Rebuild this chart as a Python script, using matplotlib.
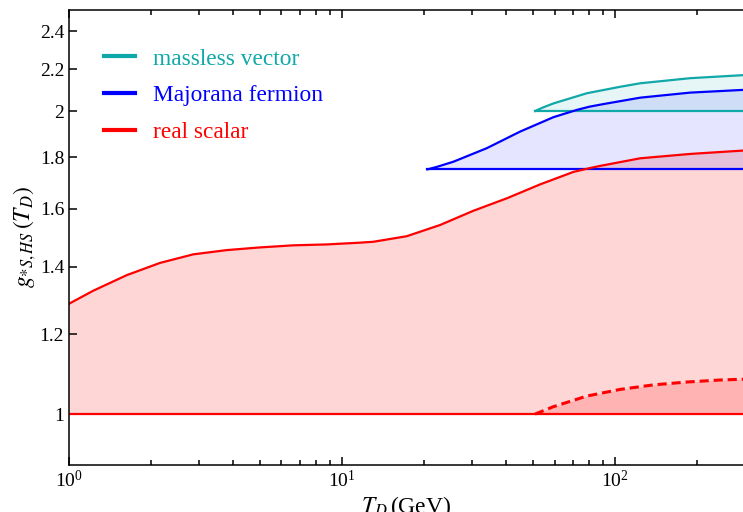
import numpy as np
import matplotlib.pyplot as plt
from matplotlib.ticker import FixedLocator, FixedFormatter, NullFormatter, LogLocator

plt.rcParams['font.family'] = 'Liberation Serif'
plt.rcParams['mathtext.fontset'] = 'stix'

T_max = 294.0

# real scalar: g_{*S,HS}(T_D)
T_scalar = [1.0, 1.227, 1.627, 2.154, 2.853, 3.78, 5.008, 6.632, 8.79, 11.64, 13.02,
            17.26, 22.86, 30.27, 40.12, 53.13, 70.37, 80.6, 88.1, 123.5, 188.3, 294.0]
g_scalar = [1.287, 1.326, 1.374, 1.413, 1.441, 1.455, 1.464, 1.471, 1.474, 1.480, 1.483,
            1.502, 1.541, 1.592, 1.638, 1.691, 1.740, 1.755, 1.764, 1.795, 1.813, 1.827]
g_scalar_base = 1.0

# real scalar, dashed branch
T_scalar_d = [50.93, 59.43, 78.8, 104.3, 138.1, 183.0, 242.4, 294.0]
g_scalar_d = [1.0, 1.017, 1.042, 1.058, 1.069, 1.076, 1.081, 1.083]

# Majorana fermion
T_fermion = [20.53, 22.23, 25.57, 33.88, 44.87, 59.43, 72.39, 80.6, 90.6, 123.5, 188.3, 294.0]
g_fermion = [1.750, 1.760, 1.781, 1.837, 1.908, 1.972, 2.005, 2.020, 2.032, 2.062, 2.086, 2.099]
g_fermion_base = 1.75

# massless vector
T_vector = [50.93, 54.6, 59.43, 78.8, 104.3, 123.5, 188.3, 294.0]
g_vector = [2.0, 2.017, 2.035, 2.083, 2.114, 2.131, 2.156, 2.171]
g_vector_base = 2.0

yticks = [1, 1.2, 1.4, 1.6, 1.8, 2, 2.2, 2.4]
yticklabels = ['1', '1.2', '1.4', '1.6', '1.8', '2', '2.2', '2.4']

red = '#ff0000'
blue = '#0000ff'
teal = '#10a8a8'

fig = plt.figure(figsize=(7.43, 5.12), dpi=100)
ax = fig.add_axes([0.0929, 0.0918, 0.9071, 0.8887])

# shaded bands between base level and curve
ax.fill_between(T_scalar, g_scalar_base, g_scalar, color=red, alpha=0.16, lw=0)
ax.fill_between(T_scalar_d, g_scalar_base, g_scalar_d, color=red, alpha=0.16, lw=0)
ax.fill_between(T_fermion, g_fermion_base, g_fermion, color=blue, alpha=0.10, lw=0)
ax.fill_between(T_vector, g_vector_base, g_vector, color=teal, alpha=0.10, lw=0)

lw = 1.6
ax.plot(T_vector, g_vector, color=teal, lw=lw, label='massless vector')
ax.plot([T_vector[0], T_max], [g_vector_base] * 2, color=teal, lw=lw)
ax.plot(T_fermion, g_fermion, color=blue, lw=lw, label='Majorana fermion')
ax.plot([T_fermion[0], T_max], [g_fermion_base] * 2, color=blue, lw=lw)
ax.plot(T_scalar, g_scalar, color=red, lw=lw, label='real scalar')
ax.plot([T_scalar[0], T_max], [g_scalar_base] * 2, color=red, lw=lw)
ax.plot(T_scalar_d, g_scalar_d, color=red, lw=2.2, ls=(0, (3, 1.6)))

ax.set_xscale('log')
ax.set_yscale('log')
ax.set_xlim(1, T_max)
ax.set_ylim(0.89, 2.52)

ax.yaxis.set_major_locator(FixedLocator(yticks))
ax.yaxis.set_major_formatter(FixedFormatter(yticklabels))
ax.yaxis.set_minor_locator(FixedLocator([]))
ax.yaxis.set_minor_formatter(NullFormatter())
ax.xaxis.set_major_locator(LogLocator(base=10))
ax.xaxis.set_minor_locator(LogLocator(base=10, subs=np.arange(2, 10)))
ax.xaxis.set_minor_formatter(NullFormatter())

ax.tick_params(which='both', direction='in', top=True, right=False, labelsize=14, width=1.1)
ax.tick_params(which='major', length=6)
ax.tick_params(which='minor', length=3.5)
ax.spines['right'].set_visible(False)
for s in ['left', 'top', 'bottom']:
    ax.spines[s].set_linewidth(1.1)

ax.set_xlabel(r'$T_D\,$(GeV)', fontsize=17, labelpad=2)
ax.set_ylabel(r'$g_{*S,HS}\,(T_D)$', fontsize=17, labelpad=1)

leg = ax.legend(loc='upper left', bbox_to_anchor=(0.052, 0.916), frameon=False,
                borderaxespad=0, borderpad=0,
                fontsize=16.8, handlelength=1.33, handletextpad=0.77, labelspacing=0.66,
                labelcolor='linecolor')
for h in leg.get_lines():
    h.set_linewidth(3)

fig.savefig('out.png', dpi=100)
